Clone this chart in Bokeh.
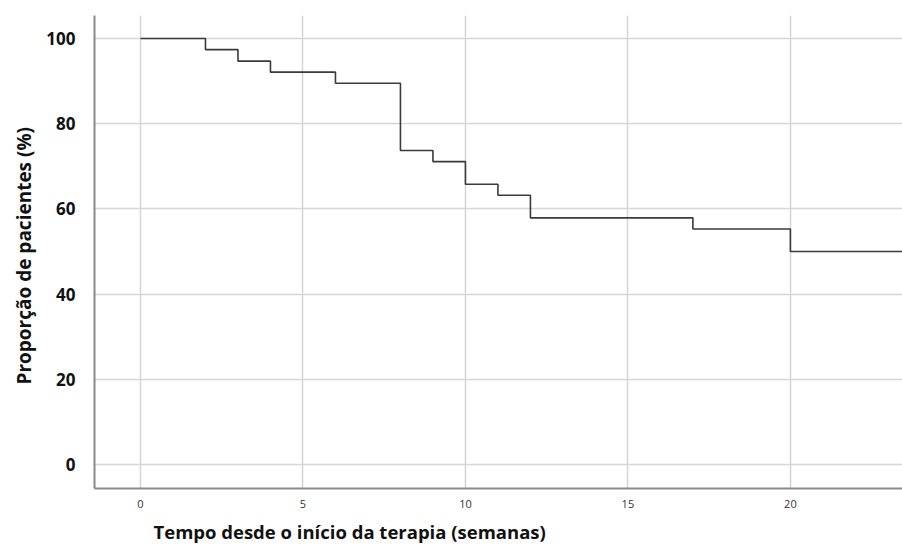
from bokeh.plotting import figure
from bokeh.models import Range1d, FixedTicker, Title
from bokeh.embed import file_html
from bokeh.resources import INLINE

# Kaplan-Meier style step data (weeks, % of patients)
tempo = [0, 2, 3, 4, 6, 8, 9, 10, 11, 12, 17, 20, 24]
proporcao = [100, 97.4, 94.7, 92.1, 89.5, 73.7, 71.1, 65.8, 63.2, 57.9, 55.3, 50.0, 50.0]
x_ticks = [0, 5, 10, 15, 20]
y_ticks = [0, 20, 40, 60, 80, 100]
x_title = "Tempo desde o início da terapia (semanas)"
y_title = "Proporção de pacientes (%)"

FONT = "Open Sans"

p = figure(width=902, height=550, output_backend="svg", toolbar_location=None,
           x_range=Range1d(-1.415, 23.45), y_range=Range1d(-5.62, 105.4),
           min_border_left=94, min_border_right=0, min_border_top=15, min_border_bottom=61)
p.outline_line_color = None
p.background_fill_color = "white"
p.border_fill_color = "white"

# grids
p.xgrid.ticker = FixedTicker(ticks=x_ticks)
p.ygrid.ticker = FixedTicker(ticks=y_ticks)
for g in (p.xgrid, p.ygrid):
    g.grid_line_color = "#d6d6d6"
    g.grid_line_width = 1.6

# axes
p.xaxis.ticker = FixedTicker(ticks=x_ticks)
p.yaxis.ticker = FixedTicker(ticks=y_ticks)
for ax in (p.xaxis, p.yaxis):
    ax.axis_line_color = "#8a8a8a"
    ax.axis_line_width = 2
    ax.major_tick_line_color = None
    ax.minor_tick_line_color = None
    ax.major_label_text_font = FONT

p.yaxis.major_label_text_font_size = "17px"
p.yaxis.major_label_text_font_style = "bold"
p.yaxis.major_label_text_color = "#111111"
p.yaxis.major_label_standoff = 13

p.xaxis.major_label_text_font_size = "11px"
p.xaxis.major_label_text_color = "#333333"
p.xaxis.major_label_standoff = 5

# curve
p.step(tempo, proporcao, mode="after", line_color="#3a3a3a", line_width=1.6)

# axis titles
p.add_layout(Title(text=x_title, align="left", offset=59, standoff=13,
                   text_font=FONT, text_font_size="18.5px", text_font_style="bold",
                   text_line_height=0.6, text_color="#111111"), "below")
p.add_layout(Title(text=y_title, align="left", offset=104, standoff=14,
                   text_font=FONT, text_font_size="19px", text_font_style="bold",
                   text_color="#111111"), "left")

open("out.html", "w").write(file_html(p, INLINE))
